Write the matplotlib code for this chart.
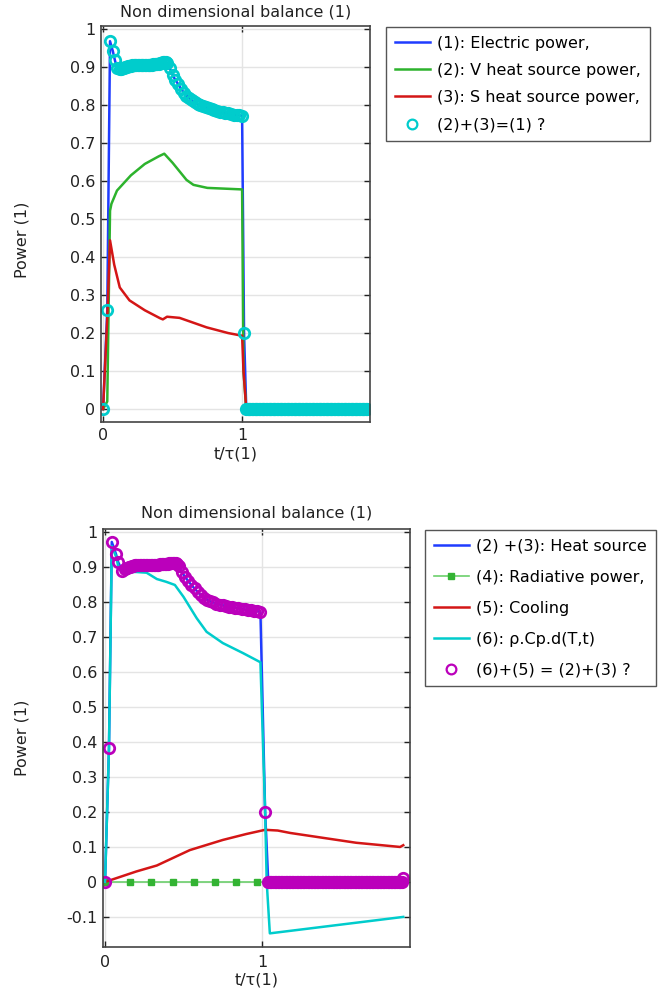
import matplotlib
matplotlib.use("Agg")
import matplotlib.pyplot as plt
from matplotlib.ticker import FuncFormatter
import numpy as np

# colours
BLUE = "#1f3cff"
GREEN = "#2db32d"
RED = "#d41616"
CYAN = "#00cccc"
MAGENTA = "#bb00bb"

# ---------------- top plot data ----------------
# (1) electric power == circles (2)+(3)
top_t_start = [0.0, 0.03, 0.05, 0.07, 0.085, 0.10]
top_p_start = [0.0, 0.26, 0.968, 0.942, 0.918, 0.898]
# plateau, stored every 0.01
top_t_flat = np.round(np.arange(0.12, 0.465, 0.01), 2)
top_p_flat = [0.895, 0.896, 0.897, 0.898, 0.900, 0.901, 0.902, 0.903, 0.904,
              0.905, 0.905, 0.906, 0.906, 0.906, 0.906, 0.906, 0.906, 0.905,
              0.905, 0.905, 0.905, 0.905, 0.906, 0.906, 0.907, 0.907, 0.908,
              0.908, 0.909, 0.910, 0.911, 0.912, 0.913, 0.913, 0.911]
# decay, stored every 0.02
top_t_down = np.round(np.arange(0.48, 1.001, 0.02), 2)
top_p_down = [0.897, 0.879, 0.866, 0.855, 0.843, 0.833, 0.825, 0.818, 0.812,
              0.807, 0.803, 0.800, 0.797, 0.794, 0.791, 0.789, 0.787, 0.785,
              0.783, 0.781, 0.780, 0.778, 0.777, 0.775, 0.774, 0.773, 0.772]
top_t_drop = [1.014]
top_p_drop = [0.2]
top_t_tail = np.round(np.arange(1.03, 1.905, 0.01), 2)
top_p_tail = [0.0] * len(top_t_tail)

# (2) V heat source power
vheat_t = [0.0, 0.03, 0.05, 0.06, 0.10, 0.20, 0.30, 0.40, 0.44, 0.50, 0.60,
           0.65, 0.75, 1.00, 1.01, 1.03, 1.90]
vheat_p = [0.0, 0.02, 0.522, 0.54, 0.575, 0.615, 0.645, 0.665, 0.672, 0.648,
           0.603, 0.590, 0.582, 0.578, 0.10, 0.0, 0.0]

# (3) S heat source power
sheat_t = [0.0, 0.03, 0.05, 0.08, 0.12, 0.19, 0.30, 0.41, 0.43, 0.46, 0.55,
           0.745, 0.90, 1.00, 1.01, 1.02, 1.03, 1.90]
sheat_p = [0.0, 0.24, 0.444, 0.38, 0.32, 0.286, 0.26, 0.239, 0.236, 0.243,
           0.240, 0.215, 0.200, 0.193, 0.10, 0.05, 0.0, 0.0]

# ---------------- bottom plot data ----------------
# (2)+(3) heat source == circles (6)+(5)
bot_t_start = [0.0, 0.025, 0.043, 0.07, 0.083, 0.11]
bot_p_start = [0.0, 0.383, 0.972, 0.937, 0.915, 0.889]
bot_t_flat = np.round(np.arange(0.13, 0.475, 0.01), 2)
bot_p_flat = [0.895, 0.897, 0.900, 0.901, 0.903, 0.904, 0.905, 0.905, 0.906,
              0.906, 0.906, 0.906, 0.906, 0.906, 0.906, 0.906, 0.905, 0.905,
              0.906, 0.906, 0.907, 0.907, 0.908, 0.908, 0.909, 0.909, 0.910,
              0.910, 0.911, 0.911, 0.912, 0.912, 0.911, 0.908, 0.902]
bot_t_down = np.round(np.arange(0.49, 0.995, 0.02), 2)
bot_p_down = [0.885, 0.872, 0.860, 0.849, 0.839, 0.829, 0.820, 0.813, 0.807,
              0.802, 0.799, 0.796, 0.793, 0.791, 0.789, 0.787, 0.785, 0.784,
              0.782, 0.781, 0.779, 0.778, 0.777, 0.775, 0.774, 0.772]
bot_t_drop = [1.02]
bot_p_drop = [0.2]
bot_t_tail = list(np.round(np.arange(1.04, 1.895, 0.01), 2)) + [1.90]
bot_p_tail = [0.0] * (len(bot_t_tail) - 1) + [0.011]

# (4) radiative power (square markers)
rad_t = [0.0, 0.16, 0.295, 0.43, 0.565, 0.70, 0.835, 0.97, 1.105, 1.24,
         1.375, 1.51, 1.645, 1.78, 1.90]
rad_p = [0.0] * len(rad_t)

# (5) cooling
cool_t = [0.0, 0.10, 0.20, 0.33, 0.54, 0.75, 0.90, 1.02, 1.10, 1.18, 1.39,
          1.60, 1.88, 1.90]
cool_p = [0.0, 0.015, 0.03, 0.047, 0.091, 0.120, 0.137, 0.149, 0.147, 0.140,
          0.126, 0.112, 0.100, 0.105]

# (6) rho.Cp.d(T,t)
rho_t = [0.0, 0.025, 0.043, 0.07, 0.083, 0.11, 0.20, 0.265, 0.33, 0.39,
         0.445, 0.50, 0.584, 0.647, 0.75, 0.88, 0.99, 1.02, 1.03, 1.05, 1.90]
rho_p = [0.0, 0.38, 0.96, 0.93, 0.905, 0.887, 0.886, 0.884, 0.866, 0.858,
         0.849, 0.815, 0.754, 0.715, 0.683, 0.654, 0.628, 0.2, 0.0, -0.147,
         -0.100]

# put the pieces together
top_t = np.concatenate([top_t_start, top_t_flat, top_t_down, top_t_drop, top_t_tail])
top_p = np.concatenate([top_p_start, top_p_flat, top_p_down, top_p_drop, top_p_tail])
bot_t = np.concatenate([bot_t_start, bot_t_flat, bot_t_down, bot_t_drop, bot_t_tail])
bot_p = np.concatenate([bot_p_start, bot_p_flat, bot_p_down, bot_p_drop, bot_p_tail])

FS = 11.5
TXT = "#222222"
plt.rcParams["font.family"] = "DejaVu Sans"
plt.rcParams["font.size"] = FS

W, H = 667.0, 993.0
fig = plt.figure(figsize=(W / 100, H / 100), dpi=100)

def px_axes(left, top, right, bottom):
    return fig.add_axes([left / W, 1 - bottom / H, (right - left) / W, (bottom - top) / H])

def style(ax, xpad):
    ax.grid(True, color="#e4e4e4", linewidth=1.0)
    ax.set_axisbelow(True)
    ax.tick_params(direction="in", top=True, right=True, length=4, width=1,
                   labelsize=FS, colors=TXT, pad=4)
    ax.tick_params(axis="x", pad=xpad)
    for s in ax.spines.values():
        s.set_color("#444444")
        s.set_linewidth(1.2)
    ax.yaxis.set_major_formatter(FuncFormatter(lambda v, p: "%g" % round(v, 2)))
    ax.set_xticks([0, 1])
    ax.set_xticklabels(["0", "1"])

# ---------------- top plot ----------------
ax1 = px_axes(101, 26, 370, 422)
l1, = ax1.plot(top_t, top_p, color=BLUE, lw=1.8, label="(1): Electric power,")
l2, = ax1.plot(vheat_t, vheat_p, color=GREEN, lw=1.8, label="(2): V heat source power,")
l3, = ax1.plot(sheat_t, sheat_p, color=RED, lw=1.8, label="(3): S heat source power,")
l4, = ax1.plot(top_t, top_p, "o", ls="none", mfc="none", mec=CYAN, mew=2.0, ms=7.5,
               label="(2)+(3)=(1) ?")
ax1.set_xlim(-0.015, 1.92)
ax1.set_ylim(-0.034, 1.008)
ax1.set_yticks(np.arange(0, 1.01, 0.1))
style(ax1, 4)
ax1.set_title("Non dimensional balance (1)", fontsize=FS, color=TXT, pad=7)
ax1.set_ylabel("Power (1)", fontsize=FS, color=TXT)
ax1.yaxis.set_label_coords(-0.264, 0.46)
ax1.set_xlabel("t/τ(1)", fontsize=FS, color=TXT)
ax1.xaxis.set_label_coords(0.5, -0.061)

leg1 = fig.legend(handles=[l1, l2, l3, l4], loc="upper left",
                  bbox_to_anchor=(386 / W, 1 - 27 / H), borderaxespad=0,
                  fancybox=False, edgecolor="#555555", framealpha=1,
                  handlelength=2.2, labelspacing=0.76, fontsize=FS,
                  borderpad=0.55, handletextpad=0.45)
leg1.get_frame().set_linewidth(1.0)
for h in leg1.legend_handles[3:]:
    h.set_markeredgewidth(1.6)
    h.set_markersize(7)

# ---------------- bottom plot ----------------
ax2 = px_axes(103, 529, 410, 947)
m1, = ax2.plot(bot_t, bot_p, color=BLUE, lw=1.8, label="(2) +(3): Heat source")
m2, = ax2.plot(rad_t, rad_p, color="#6ccf6c", lw=1.2, marker="s", ms=4.5,
               mfc="#33b333", mec="#33b333", label="(4): Radiative power,")
m3, = ax2.plot(cool_t, cool_p, color=RED, lw=1.8, label="(5): Cooling")
m4, = ax2.plot(rho_t, rho_p, color=CYAN, lw=1.8, label="(6): ρ.Cp.d(T,t)")
m5, = ax2.plot(bot_t, bot_p, "o", ls="none", mfc="none", mec=MAGENTA, mew=2.0, ms=7.5,
               label="(6)+(5) = (2)+(3) ?")
ax2.set_xlim(-0.013, 1.943)
ax2.set_ylim(-0.186, 1.009)
ax2.set_yticks(np.arange(-0.1, 1.01, 0.1))
style(ax2, 6)
ax2.set_title("Non dimensional balance (1)", fontsize=FS, color=TXT, pad=8)
ax2.set_ylabel("Power (1)", fontsize=FS, color=TXT)
ax2.yaxis.set_label_coords(-0.238, 0.5)
ax2.set_xlabel("t/τ(1)", fontsize=FS, color=TXT)
ax2.xaxis.set_label_coords(0.5, -0.06)

leg2 = fig.legend(handles=[m1, m2, m3, m4, m5], loc="upper left",
                  bbox_to_anchor=(425 / W, 1 - 530 / H), borderaxespad=0,
                  fancybox=False, edgecolor="#555555", framealpha=1,
                  handlelength=2.2, labelspacing=1.0, fontsize=FS,
                  borderpad=0.55, handletextpad=0.45)
leg2.get_frame().set_linewidth(1.0)
for h in leg2.legend_handles[4:]:
    h.set_markeredgewidth(1.6)
    h.set_markersize(7)

fig.savefig("out.png", dpi=100)
